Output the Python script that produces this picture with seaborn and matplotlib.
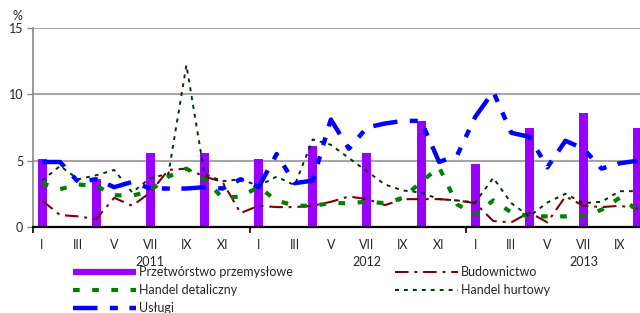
import matplotlib
matplotlib.use("Agg")
import matplotlib.pyplot as plt
import seaborn as sns
import pandas as pd
from matplotlib.lines import Line2D

# ---------------- data ----------------
months = list(range(34))  # I 2011 ... X 2013
month_tick_pos = list(range(0, 33, 2))
month_tick_labels = ["I", "III", "V", "VII", "IX", "XI",
                     "I", "III", "V", "VII", "IX", "XI",
                     "I", "III", "V", "VII", "IX"]
years = ["2011", "2012", "2013"]
year_pos = [6, 18, 30]
year_bounds = [-0.5, 11.5, 23.5]

bar_months = [0, 3, 6, 9, 12, 15, 18, 21, 24, 27, 30, 33]
przetworstwo = [5.1, 3.6, 5.6, 5.6, 5.1, 6.1, 5.6, 8.0, 4.75, 7.5, 8.6, 7.5]

budownictwo = [2.0, 0.9, 0.8, 0.6, 2.2, 1.6, 2.6, 4.3, 4.4, 3.8, 3.4, 1.05,
               1.6, 1.5, 1.5, 1.6, 1.9, 2.3, 2.1, 1.65, 2.1, 2.1, 2.1, 2.0,
               1.8, 0.45, 0.35, 1.1, 0.35, 2.3, 1.6, 1.5, 1.6, 1.4]
handel_det = [3.3, 2.85, 3.2, 3.1, 2.4, 2.35, 2.75, 3.8, 4.4, 3.6, 2.2, 2.3,
              3.0, 2.0, 1.6, 1.6, 1.8, 1.8, 1.9, 1.8, 2.2, 3.4, 4.5, 1.7,
              0.95, 2.0, 1.1, 0.8, 0.8, 0.8, 0.8, 1.3, 2.2, 1.3]
handel_hurt = [3.5, 4.6, 3.6, 3.9, 4.3, 2.6, 3.7, 4.0, 12.2, 4.0, 3.45, 3.6,
               3.1, 3.8, 3.15, 6.6, 6.2, 5.2, 4.2, 3.2, 2.75, 2.6, 2.1, 2.0,
               1.85, 3.7, 1.8, 0.8, 1.85, 2.5, 1.8, 1.9, 2.7, 2.7]
uslugi = [4.9, 4.9, 3.4, 3.6, 3.0, 3.4, 2.9, 2.9, 2.9, 3.0, 2.9, 3.6,
          3.0, 5.5, 3.3, 3.5, 8.1, 5.9, 7.5, 7.8, 8.0, 8.0, 4.9, 5.4,
          8.3, 10.2, 7.1, 6.8, 4.5, 6.5, 5.9, 4.4, 4.8, 5.0]

labels = ["Przetwórstwo przemysłowe", "Budownictwo", "Handel detaliczny",
          "Handel hurtowy", "Usługi"]

# ---------------- style ----------------
sns.set_theme(style="white")
plt.rcParams['font.family'] = ['Lato', 'DejaVu Sans']
FS = 9
C_BAR = "#9900ff"
C_BUD = "#800000"
C_DET = "#008000"
C_HUR = "#003300"
C_USL = "#0000ff"
LS_BUD = (0, (6.5, 2.8, 1.4, 2.8))
LS_DET = (0, (1.6, 3.0))
LS_HUR = (0, (2.0, 2.6))
LS_USL = (0, (5.5, 2.8, 1.8, 2.6, 1.8, 2.6))

fig = plt.figure(figsize=(6.4, 3.13), dpi=100)
ax = fig.add_axes([33 / 640, 86 / 313, 607 / 640, 199 / 313])

bars_df = pd.DataFrame({"m": bar_months, "v": przetworstwo})
sns.barplot(data=bars_df, x="m", y="v", native_scale=True, width=0.5 / 3,
            color=C_BAR, saturation=1, errorbar=None, linewidth=0, ax=ax,
            zorder=2)

line_df = pd.DataFrame({"m": months, "bud": budownictwo, "det": handel_det,
                        "hur": handel_hurt, "usl": uslugi})
sns.lineplot(data=line_df, x="m", y="bud", color=C_BUD, lw=1.5,
             linestyle=LS_BUD, ax=ax, zorder=3)
sns.lineplot(data=line_df, x="m", y="det", color=C_DET, lw=3.0,
             linestyle=LS_DET, ax=ax, zorder=3)
sns.lineplot(data=line_df, x="m", y="hur", color=C_HUR, lw=1.4,
             linestyle=LS_HUR, ax=ax, zorder=3)
sns.lineplot(data=line_df, x="m", y="usl", color=C_USL, lw=3.2,
             linestyle=LS_USL, ax=ax, zorder=4)

ax.set_xlim(-0.5, 33.13)
ax.set_ylim(0, 15)
ax.set_xlabel("")
ax.set_ylabel("")

ax.set_yticks([0, 5, 10, 15])
ax.set_yticklabels(["0", "5", "10", "15"], fontsize=FS)
ax.yaxis.grid(True, color="#a6a6a6", lw=1.5)
ax.xaxis.grid(False)
ax.set_axisbelow(True)

ax.set_xticks(year_bounds)
ax.set_xticklabels([])
ax.set_xticks(month_tick_pos, minor=True)
ax.set_xticklabels(month_tick_labels, minor=True, fontsize=FS)
ax.tick_params(axis="x", which="major", length=4, width=1.2, color="black",
               direction="out", bottom=True)
ax.tick_params(axis="x", which="minor", length=0, pad=8.5, bottom=True)
ax.tick_params(axis="y", which="major", length=4, width=1.0, color="#888888",
               direction="out", pad=3, left=True)

for s in ["top", "right"]:
    ax.spines[s].set_visible(False)
ax.spines["left"].set_color("#888888")
ax.spines["left"].set_linewidth(1.2)
ax.spines["bottom"].set_color("black")
ax.spines["bottom"].set_linewidth(1.6)
ax.spines["bottom"].set_zorder(5)

for yr, xp in zip(years, year_pos):
    ax.text(xp, -35 / 199, yr, transform=ax.get_xaxis_transform(),
            ha="center", va="center", fontsize=FS)

fig.text(17 / 640, 1 - 16 / 313, "%", ha="center", va="center", fontsize=FS)

# ---------------- legend ----------------
h_bar = Line2D([], [], color=C_BAR, lw=4.5, solid_capstyle="butt")
h_bud = Line2D([], [], color=C_BUD, lw=1.5, linestyle=LS_BUD)
h_det = Line2D([], [], color=C_DET, lw=3.0, linestyle=LS_DET)
h_hur = Line2D([], [], color=C_HUR, lw=1.4, linestyle=LS_HUR)
h_usl = Line2D([], [], color=C_USL, lw=3.2, linestyle=LS_USL)

leg_kw = dict(loc="upper left", frameon=False, fontsize=FS, handlelength=5.0,
              handletextpad=0.3, labelspacing=0.5, borderpad=0,
              borderaxespad=0)
leg1 = fig.legend([h_bar, h_det, h_usl], [labels[0], labels[2], labels[4]],
                  bbox_to_anchor=(73 / 640, 1 - 266 / 313), **leg_kw)
leg2 = fig.legend([h_bud, h_hur], [labels[1], labels[3]],
                  bbox_to_anchor=(395 / 640, 1 - 266 / 313), **leg_kw)

fig.savefig("out.png", dpi=100)
